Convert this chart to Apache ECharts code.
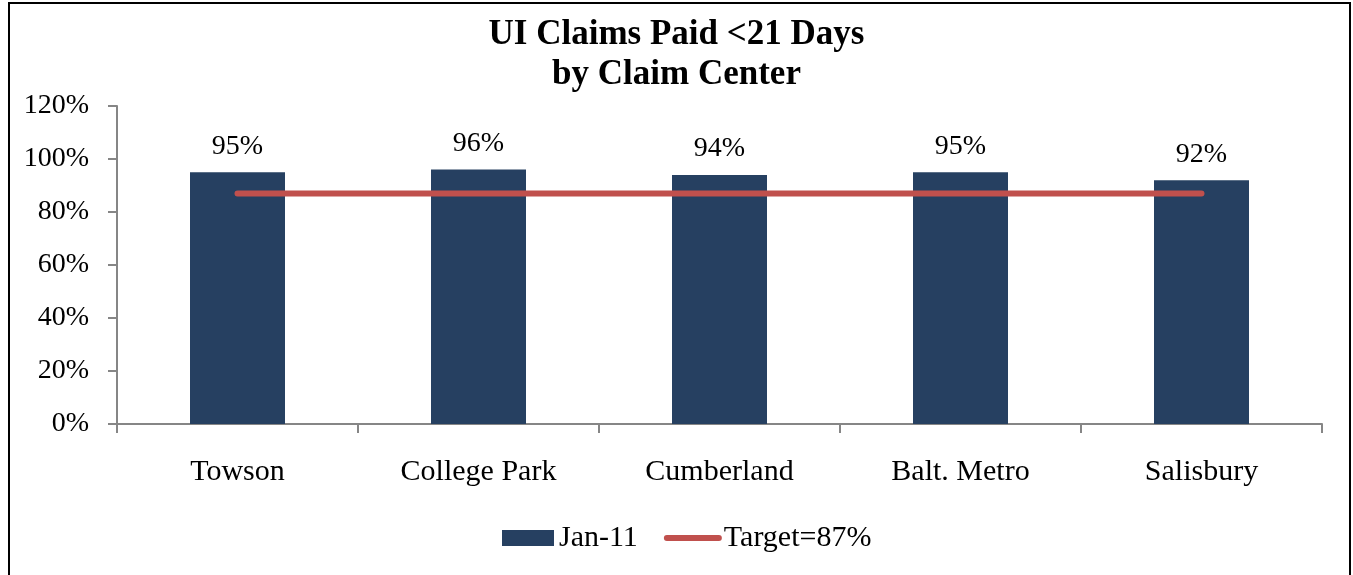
<!DOCTYPE html>
<html>
<head>
<meta charset="utf-8">
<script src="https://cdn.jsdelivr.net/npm/echarts@6/dist/echarts.min.js"></script>
<style>
  html, body { margin: 0; padding: 0; background: #fff; }
  #main { width: 1353px; height: 575px; }
</style>
</head>
<body>
<div id="main"></div>
<script>
// data
const centers = ['Towson', 'College Park', 'Cumberland', 'Balt. Metro', 'Salisbury'];
const jan11 = [95, 96, 94, 95, 92];
const target = [87, 87, 87, 87, 87];
const yTicks = [0, 20, 40, 60, 80, 100, 120];

const serif = '"Liberation Serif", "Times New Roman", serif';

const chart = echarts.init(document.getElementById('main'));
const option = {
  backgroundColor: '#fff',
  animation: false,
  textStyle: { fontFamily: serif, color: '#000' },
  title: {
    text: 'UI Claims Paid <21 Days\nby Claim Center',
    left: 'center',
    top: 10,
    textStyle: { fontFamily: serif, fontSize: 35, fontWeight: 'bold', lineHeight: 40, color: '#000' }
  },
  graphic: [{
    type: 'rect',
    shape: { x: 9, y: 3, width: 1341, height: 600 },
    style: { fill: 'none', stroke: '#000', lineWidth: 2 },
    silent: true
  }],
  legend: {
    bottom: 17,
    left: 497,
    itemWidth: 52,
    itemHeight: 16,
    itemGap: 26,
    textStyle: { fontFamily: serif, fontSize: 30, color: '#000' },
    data: [
      { name: 'Jan-11', icon: 'rect' },
      { name: 'Target=87%', itemStyle: { opacity: 0 }, lineStyle: { width: 6, cap: 'round' } }
    ]
  },
  grid: { left: 117, right: 31, top: 106, bottom: 151, containLabel: false },
  xAxis: {
    type: 'category',
    data: centers,
    axisLine: { lineStyle: { color: '#868686', width: 2 } },
    axisTick: { show: true, length: 9, lineStyle: { color: '#868686', width: 2 } },
    axisLabel: { fontFamily: serif, fontSize: 30, color: '#000', margin: 33 }
  },
  yAxis: {
    type: 'value',
    min: yTicks[0],
    max: yTicks[yTicks.length - 1],
    interval: 20,
    axisLine: { show: true, lineStyle: { color: '#868686', width: 2 } },
    axisTick: { show: true, length: 9, lineStyle: { color: '#868686', width: 2 } },
    splitLine: { show: false },
    axisLabel: { fontFamily: serif, fontSize: 28, color: '#000', margin: 28, formatter: '{value}%' }
  },
  series: [
    {
      name: 'Jan-11',
      type: 'bar',
      data: jan11,
      barWidth: 95,
      itemStyle: { color: '#264061' },
      label: {
        show: true,
        position: 'top',
        distance: 12,
        formatter: '{c}%',
        fontFamily: serif,
        fontSize: 28,
        color: '#000'
      }
    },
    {
      name: 'Target=87%',
      type: 'line',
      data: target,
      symbol: 'none',
      itemStyle: { color: '#C0504D' },
      lineStyle: { color: '#C0504D', width: 6, cap: 'round' },
      z: 3
    }
  ]
};
chart.setOption(option);
</script>
</body>
</html>
